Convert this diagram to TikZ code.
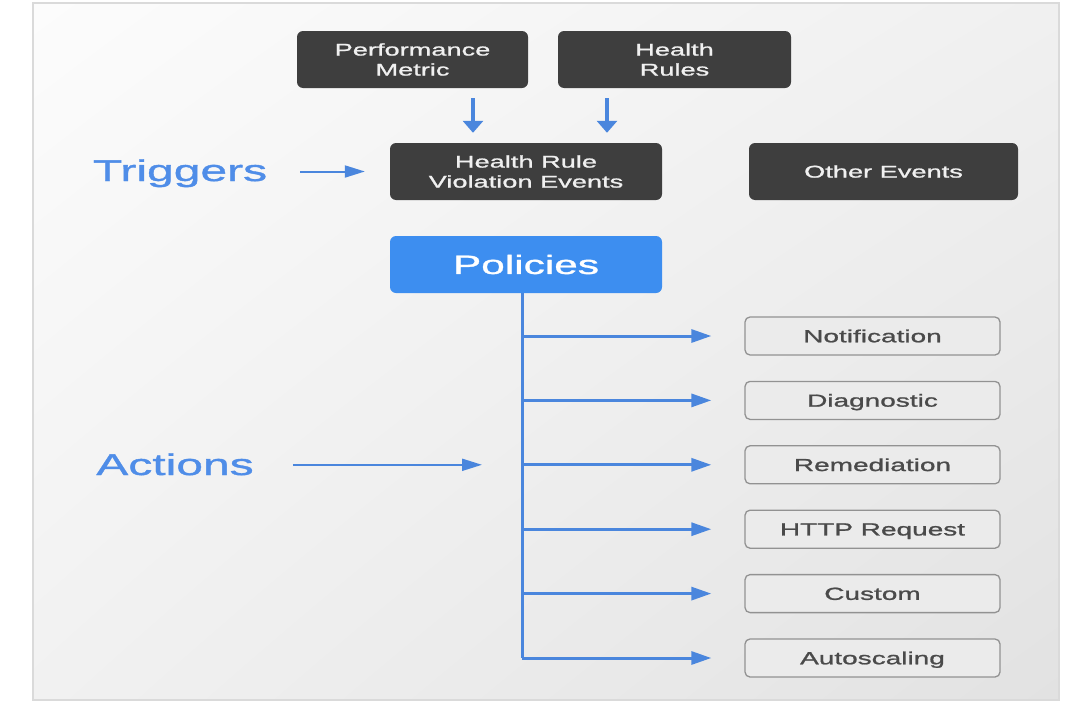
\documentclass[tikz,border=0pt]{standalone}
\usepackage{fontspec}
\setmainfont{Liberation Sans}[FakeStretch=1.6,FakeBold=1.2]
\usetikzlibrary{arrows.meta,calc,shadings}
\definecolor{darkbox}{HTML}{3E3E3E}
\definecolor{boxtext}{HTML}{F0F0F0}
\definecolor{arrowblue}{HTML}{4A86DD}
\definecolor{labelblue}{HTML}{4F8DE8}
\definecolor{polblue}{HTML}{3D8EF0}
\definecolor{actfill}{HTML}{EBEBEB}
\definecolor{actdraw}{HTML}{929292}
\definecolor{acttext}{HTML}{4A4A4A}
\definecolor{bgul}{HTML}{FCFCFC}
\definecolor{bgur}{HTML}{F0F0F0}
\definecolor{bgll}{HTML}{F1F1F1}
\definecolor{bglr}{HTML}{E2E2E2}
\definecolor{framegray}{HTML}{DADADA}
\tikzset{
  dbox/.style={fill=darkbox, rounded corners=6pt, text=boxtext,
    font=\fontsize{17}{20}\selectfont, align=center, minimum height=57pt, inner sep=0pt},
  abox/.style={fill=actfill, draw=actdraw, line width=1.3pt, rounded corners=5pt,
    text=acttext, font=\fontsize{17.5}{20}\selectfont, minimum width=255pt,
    minimum height=38pt, inner sep=0pt, text height=12.5pt, text depth=0pt},
  pbox/.style={fill=polblue, rounded corners=6pt, text=white,
    font=\fontsize{26.5}{30}\selectfont, minimum width=272pt, minimum height=57pt, inner sep=0pt},
  biglabel/.style={text=labelblue, font=\fontsize{30}{34}\selectfont, inner sep=0pt},
  arrv/.style={draw=arrowblue, line width=4pt, -{Triangle[length=12pt,width=20pt]}},
  arrh/.style={draw=arrowblue, line width=3pt, -{Triangle[length=20pt,width=13pt]}},
  arrl/.style={draw=arrowblue, line width=2pt, -{Triangle[length=20pt,width=12pt]}},
  vline/.style={draw=arrowblue, line width=3pt},
}
\begin{document}
\begin{tikzpicture}[x=1pt,y=-1pt]
\useasboundingbox (0,0) rectangle (1081,704);
\fill[white] (0,0) rectangle (1081,704);
\shade[upper left=bgul, upper right=bgur, lower left=bgll, lower right=bglr] (33,3) rectangle (1059,700);
\draw[framegray, line width=1.5pt] (33,3) rectangle (1059,700);

% top boxes
\node[dbox, minimum width=231pt] (pm) at (412.5,59.5) {Performance\\Metric};
\node[dbox, minimum width=233pt] (hr) at (674.5,59.5) {Health\\Rules};
\node[dbox, minimum width=272pt] (hrve) at (526,171.5) {Health Rule\\Violation Events};
\node[dbox, minimum width=269pt] (oe) at (883.5,171.5) {Other Events};
\node[pbox] (pol) at (526,264.5) {Policies};

% labels
\node[biglabel, anchor=base] (trig) at (180,181) {Triggers};
\node[biglabel, anchor=base] (actl) at (175,475) {Actions};

% action boxes
\node[abox] (a1) at (872.5,336) {Notification};
\node[abox] (a2) at (872.5,400.4) {Diagnostic};
\node[abox] (a3) at (872.5,464.8) {Remediation};
\node[abox] (a4) at (872.5,529.2) {HTTP Request};
\node[abox] (a5) at (872.5,593.6) {Custom};
\node[abox] (a6) at (872.5,658) {Autoscaling};

% helper coordinates
\coordinate (c1) at (473,0);
\coordinate (c2) at (607,0);
\coordinate (vb) at (522,658);

% down arrows
\draw[arrv, shorten <=10pt, shorten >=10pt] (pm.south -| c1) -- (hrve.north -| c1);
\draw[arrv, shorten <=10pt, shorten >=10pt] (hr.south -| c2) -- (hrve.north -| c2);

% triggers arrow
\draw[arrl, shorten <=33pt, shorten >=25pt] (trig.east |- hrve.west) -- (hrve.west);

% policies trunk
\draw[vline] (pol.south -| vb) -- (vb);

% action arrows
\draw[arrh, shorten >=33pt] (a1.west -| vb) -- (a1.west);
\draw[arrh, shorten >=33pt] (a2.west -| vb) -- (a2.west);
\draw[arrh, shorten >=33pt] (a3.west -| vb) -- (a3.west);
\draw[arrh, shorten >=33pt] (a4.west -| vb) -- (a4.west);
\draw[arrh, shorten >=33pt] (a5.west -| vb) -- (a5.west);
\draw[arrh, shorten >=33pt] (vb) -- (a6.west);

% actions arrow
\draw[arrl, shorten <=39pt, shorten >=40pt] (actl.east |- a3.west) -- (a3.west -| vb);
\end{tikzpicture}
\end{document}
